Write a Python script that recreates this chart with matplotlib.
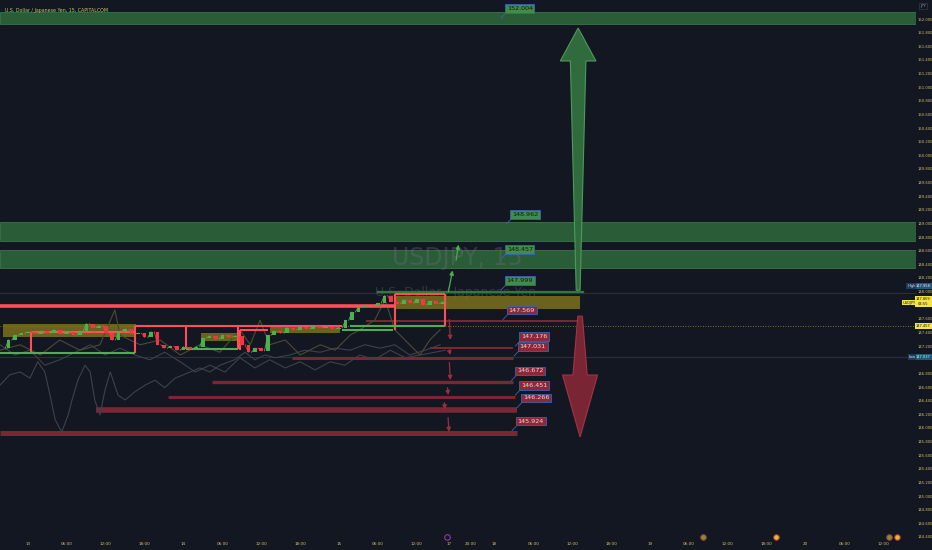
import matplotlib
matplotlib.use('Agg')
import matplotlib.pyplot as plt
from matplotlib.patches import Polygon, Rectangle

# ---------------- data ----------------
# candle closes (hourly, x in hours since day 13 00:00, weekend compressed)
candle_hours = list(range(-4, 65))
candle_close = [147.17, 147.29, 147.36, 147.39, 147.41, 147.38, 147.42, 147.39, 147.44, 147.38,
                147.41, 147.36, 147.42, 147.53, 147.47, 147.50, 147.39, 147.29, 147.42, 147.45,
                147.38, 147.39, 147.33, 147.41, 147.22, 147.17, 147.20, 147.14, 147.19, 147.16,
                147.19, 147.32, 147.35, 147.30, 147.36, 147.33, 147.35, 147.22, 147.11, 147.17,
                147.13, 147.36, 147.42, 147.39, 147.47, 147.44, 147.48, 147.45, 147.50, 147.47,
                147.48, 147.45, 147.47, 147.58, 147.70, 147.77, 147.79, 147.80, 147.83, 147.94,
                147.85, 147.82, 147.88, 147.83, 147.89, 147.80, 147.86, 147.82, 147.85]

# faint comparison overlays
g1_hours = [-4.3, -2.8, -1.2, 0.3, 1.5, 2.6, 3.4, 4.2, 5.2, 6.2, 6.8, 7.7, 8.8, 9.6, 10.3, 11.1, 11.9,
            12.7, 13.9, 15.0, 16.5, 18.1, 19.6, 21.1, 22.7, 25.0, 26.5, 28.1, 29.6, 31.9, 33.5, 35.0,
            36.6, 38.1, 40.4, 42.7, 45.1, 47.4, 49.7, 52.0, 54.3, 56.6, 58.9, 61.3, 63.6]
g1_price = [146.63, 146.78, 146.82, 146.73, 146.97, 146.82, 146.48, 146.12, 145.94, 146.19, 146.41,
            146.70, 146.92, 146.82, 146.41, 146.19, 146.56, 146.82, 146.48, 146.41, 146.53, 146.63,
            146.70, 146.59, 146.73, 146.82, 146.88, 146.82, 146.92, 147.00, 147.11, 147.00, 147.07,
            147.03, 147.07, 147.14, 147.11, 147.17, 147.14, 147.22, 147.17, 147.22, 147.07, 147.14,
            147.22]
g2_hours = [-4.3, -1.2, 1.9, 4.9, 8.0, 11.1, 13.4, 14.2, 17.3, 20.4, 23.5, 26.5, 29.6, 32.7, 34.3,
            35.8, 37.3, 39.7, 42.0, 45.1, 47.4, 49.7, 51.2, 53.5, 55.1, 56.6, 58.9, 60.5, 62.0, 63.6]
g2_price = [147.14, 147.22, 147.07, 147.29, 147.14, 147.22, 147.73, 147.36, 147.22, 147.29, 147.07,
            147.22, 147.11, 147.44, 147.22, 147.58, 147.22, 147.29, 147.07, 147.22, 147.14, 147.36,
            147.44, 147.58, 147.88, 147.44, 147.22, 147.07, 147.29, 147.44]
g3_hours = [-4.3, -2.0, 0.3, 2.6, 4.9, 7.3, 9.6, 11.9, 14.2, 16.5, 18.8, 21.1, 23.5, 25.8, 28.1, 30.4,
            32.7, 35.0, 37.3, 39.7, 42.0, 44.3, 46.6, 48.9, 51.2, 53.5, 55.9, 58.2, 60.5, 62.8, 64.4]
g3_price = [147.22, 147.07, 147.14, 146.92, 147.00, 147.11, 147.22, 147.07, 147.17, 147.07, 147.00,
            147.11, 146.97, 146.82, 146.92, 146.82, 147.03, 146.88, 147.00, 146.88, 146.97, 146.85,
            146.97, 146.92, 147.07, 147.00, 147.14, 147.03, 147.07, 147.11, 147.14]

# target levels
green_band_levels = [152.004, 148.962, 148.457]
green_band_top = [152.103, 149.021, 148.610]
green_band_bottom = [151.927, 148.743, 148.346]
green_line_level = 147.999
green_line_span = (54.0, 85.6)

red_levels = [147.569, 147.176, 147.031, 146.672, 146.451, 146.266, 145.924]
red_level_start = [52.2, 62.0, 40.7, 28.4, 21.6, 10.5, -4.3]
red_level_end = [85.2, 74.8, 74.8, 74.8, 75.2, 75.5, 75.5]

# zones (start h, end h, top, bottom)
zone_start = [-3.86, 26.65, 37.35, 56.6]
zone_end = [16.67, 32.3, 48.15, 85.2]
zone_top = [147.52, 147.39, 147.51, 147.94]
zone_bottom = [147.33, 147.275, 147.39, 147.74]

# session box segments (x0, x1, y0, y1)
red_segments = [(-4.3, 56.6, 147.793, 147.793),
                (0.46, 16.5, 147.412, 147.412), (0.46, 0.46, 147.412, 147.095),
                (16.5, 16.5, 147.496, 147.095),
                (16.5, 48.5, 147.496, 147.496),
                (24.4, 24.4, 147.496, 147.157), (32.4, 32.4, 147.496, 147.157),
                (32.7, 37.0, 147.43, 147.43), (32.7, 32.7, 147.43, 147.15),
                (56.6, 64.4, 147.96, 147.96), (56.6, 56.6, 147.96, 147.437),
                (64.4, 64.4, 147.96, 147.495)]
green_segments = [(-4.3, 16.5, 147.095, 147.095),
                  (24.4, 32.4, 147.157, 147.157),
                  (48.5, 56.3, 147.437, 147.437),
                  (49.7, 64.4, 147.496, 147.496)]

# x axis ticks
xtick_pos = [0, 6, 12, 18, 24, 30, 36, 42, 48, 54, 60, 65, 68.3, 72, 78, 84, 90, 96, 102, 108,
             114, 120, 126, 132]
xtick_lab = ['13', '06:00', '12:00', '18:00', '14', '06:00', '12:00', '18:00', '15', '06:00',
             '12:00', '17', '20:00', '18', '06:00', '12:00', '18:00', '19', '06:00', '12:00',
             '18:00', '20', '06:00', '12:00']

# ---------------- style / layout ----------------
BG = '#131722'
AXTXT = '#cfc16a'
GREEN = '#4caf50'
LVL_RED = '#7b2733'
BAND_GREEN = '#2b5c38'

fig = plt.figure(figsize=(9.32, 5.5), dpi=100, facecolor=BG)
ax = fig.add_axes([0, 10 / 550, 916 / 932, 540 / 550], facecolor=BG)
ax.set_xlim(-4.32, 137.04)
ax.set_ylim(144.355, 152.279)
for s in ax.spines.values():
    s.set_visible(False)

# price axis (labels hidden behind price tags are left blank, as in the reference)
yt = [round(144.4 + 0.2 * i, 1) for i in range(39)]
hidden = {147.8, 147.0}
ax.yaxis.tick_right()
ax.set_yticks(yt)
ax.set_yticklabels(['' if v in hidden else '{:.3f}'.format(v) for v in yt])
ax.tick_params(axis='y', length=0, pad=0.8, labelsize=2.7, labelcolor=AXTXT)
ax.set_xticks(xtick_pos)
ax.set_xticklabels(xtick_lab)
ax.tick_params(axis='x', length=0, pad=1.2, labelsize=3.0, labelcolor=AXTXT)

# watermark
ax.text(66.2, 148.50, 'USDJPY, 15', fontsize=17, color='#6a6e7a', alpha=0.35,
        ha='center', va='center', zorder=3)
ax.text(66.0, 147.99, 'U.S. Dollar / Japanese Yen', fontsize=9, color='#6a6e7a', alpha=0.35,
        ha='center', va='center', zorder=3)

# green bands
for lv, t, b in zip(green_band_levels, green_band_top, green_band_bottom):
    ax.add_patch(Rectangle((-4.32, b), 141.4, t - b, facecolor=BAND_GREEN, edgecolor='#3a7548',
                           lw=0.6, zorder=2))
ax.plot(green_line_span, [green_line_level] * 2, color='#2e7a3c', lw=1.6, zorder=4)

# faint horizontal references
ax.axhline(147.98, color='#2a2e39', lw=0.8, zorder=1)
ax.axhline(147.495, color='#9a8d3e', lw=0.6, ls=(0, (1, 2)), zorder=1)
ax.axhline(147.04, color='#2a2e39', lw=0.8, zorder=1)

# red levels
red_lw = [1.4, 1.5, 2.2, 2.4, 2.2, 4.0, 3.6]
for lv, x0, x1, lw in zip(red_levels, red_level_start, red_level_end, red_lw):
    ax.plot([x0, x1], [lv, lv], color=LVL_RED, lw=lw, solid_capstyle='butt', zorder=3)

# zones
for x0, x1, t, b in zip(zone_start, zone_end, zone_top, zone_bottom):
    ax.add_patch(Rectangle((x0, b), x1 - x0, t - b, facecolor='#8a7c1c', alpha=0.75,
                           edgecolor='none', zorder=3))

# overlay lines
ax.plot(g1_hours, g1_price, color='#3d414d', lw=0.8, zorder=3)
ax.plot(g3_hours, g3_price, color='#3d414d', lw=0.8, zorder=3)
ax.plot(g2_hours, g2_price, color='#4d4a33', lw=0.8, zorder=3)

# session boxes
for x0, x1, y0, y1 in red_segments:
    lw = 2.6 if (y0 == y1 and x1 - x0 > 50) else 1.5
    ax.plot([x0, x1], [y0, y1], color='#ff4d5a', lw=lw, zorder=5, solid_capstyle='butt')
for x0, x1, y0, y1 in green_segments:
    ax.plot([x0, x1], [y0, y1], color=GREEN, lw=1.5, zorder=5, solid_capstyle='butt')

# candles
for i in range(1, len(candle_close)):
    o, c = candle_close[i - 1], candle_close[i]
    col = '#4caf50' if c >= o else '#f23645'
    h = c - o if abs(c - o) > 0.012 else 0.012
    ax.bar(candle_hours[i], h, bottom=o, width=0.55, color=col, zorder=6, lw=0)
    ax.plot([candle_hours[i] - 0.5, candle_hours[i]], [o, c], color=col, lw=0.6, zorder=6)

# big arrows
def big_arrow(xc, y_start, y_end, head_len, head_hw, hw_start, hw_end, fc, ec):
    d = 1 if y_end > y_start else -1
    yb = y_end - d * head_len
    pts = [(xc - hw_start, y_start), (xc - hw_end, yb), (xc - head_hw, yb), (xc, y_end),
           (xc + head_hw, yb), (xc + hw_end, yb), (xc + hw_start, y_start)]
    ax.add_patch(Polygon(pts, closed=True, facecolor=fc, edgecolor=ec, lw=0.8, zorder=7))

big_arrow(84.9, 148.02, 151.868, 0.484, 2.75, 0.3, 1.2, '#2f6b3c', '#4e9a5c')
big_arrow(85.2, 147.64, 145.866, 0.91, 2.7, 0.35, 1.1, '#7a2533', '#a33445')

# small arrows
sg_x0 = [64.8, 66.0]; sg_x1 = [65.6, 66.5]; sg_y0 = [147.96, 148.42]; sg_y1 = [148.35, 148.73]
for a, b, c, d in zip(sg_x0, sg_x1, sg_y0, sg_y1):
    ax.annotate('', xy=(b, d), xytext=(a, c),
                arrowprops=dict(arrowstyle='-|>', color='#4caf50', lw=0.9, mutation_scale=6),
                zorder=7)
sr_x = [65.0, 65.0, 65.0, 64.7, 64.2, 64.8]
sr_y0 = [147.63, 147.14, 147.00, 146.63, 146.41, 146.19]
sr_y1 = [147.25, 147.07, 146.66, 146.44, 146.23, 145.90]
for x, a, b in zip(sr_x, sr_y0, sr_y1):
    ax.annotate('', xy=(x + 0.2, b), xytext=(x, a),
                arrowprops=dict(arrowstyle='-|>', color='#9a2e3e', lw=0.9, mutation_scale=6),
                zorder=7)

# labels
lab_text = ['152.004', '148.962', '148.457', '147.999', '147.569', '147.176', '147.031',
            '146.672', '146.451', '146.266', '145.924']
lab_x = [75.9, 76.7, 75.9, 75.9, 76.2, 78.1, 77.9, 77.5, 78.1, 78.4, 77.6]
lab_y = [152.154, 149.131, 148.618, 148.163, 147.730, 147.341, 147.194, 146.835, 146.622,
         146.439, 146.101]
lab_green = [True, True, True, True, False, False, False, False, False, False, False]
for t, x, y, g in zip(lab_text, lab_x, lab_y, lab_green):
    fc = '#3f8c4c' if g else '#8e2838'
    tc = '#0f1a12' if g else '#f4d6d6'
    ax.text(x, y, t, fontsize=4.6, ha='center', va='center', color=tc, zorder=9,
            bbox=dict(boxstyle='square,pad=0.25', fc=fc, ec='#3c62b0', lw=0.6))
    ax.plot([x - 2.2, x - 2.9], [y - 0.07, y - 0.14], color='#3c62b0', lw=0.6, zorder=8)

# top texts
ax.text(0.005, 0.985, 'U.S. Dollar / Japanese Yen, 15, CAPITALCOM', transform=ax.transAxes,
        fontsize=3.4, color=AXTXT, ha='left', va='top')
ax.text(1.0075, 0.992, 'JPY', transform=ax.transAxes, fontsize=2.8, color='#9598a1',
        ha='center', va='top', clip_on=False,
        bbox=dict(boxstyle='square,pad=0.3', fc=BG, ec='#363a45', lw=0.5))

# right-side price tags
yx = ax.get_yaxis_transform()
TX = 1.0082
def tag(x, y, s, fc, tc, fs=2.6, ha='center'):
    ax.text(x, y, s, transform=yx, fontsize=fs, color=tc, ha=ha, va='center', clip_on=False,
            zorder=10, linespacing=1.1, bbox=dict(boxstyle='square,pad=0.25', fc=fc, ec='none'))

tag(TX, 148.08, '147.958', '#1f5a7a', '#e0e3eb')
tag(0.9995, 148.08, 'High', '#1f3a5c', '#e0e3eb', ha='right')
tag(TX, 147.855, '147.869\n04:55', '#f5e342', '#131722')
tag(0.9995, 147.84, 'USDJPY', '#f5e342', '#131722', ha='right')
tag(TX, 147.495, '147.457', '#f5e342', '#131722')
tag(TX, 147.04, '147.037', '#1f5a7a', '#e0e3eb')
tag(0.9995, 147.04, 'Low', '#1f3a5c', '#e0e3eb', ha='right')

# bottom event icons
xx = ax.get_xaxis_transform()
ax.plot([64.7], [0.006], transform=xx, marker='o', ms=4, mfc='none', mec='#9c3fae', mew=0.7,
        clip_on=False, zorder=10)
for h, c in [(104.2, '#6a9a3a'), (115.4, '#e8b830'), (132.9, '#6a9a3a'), (134.1, '#e8b830')]:
    ax.plot([h], [0.006], transform=xx, marker='o', ms=4, mfc=c, mec='#c0303f', mew=0.7,
            clip_on=False, zorder=10)

fig.savefig('out.png', dpi=100, facecolor=BG)
